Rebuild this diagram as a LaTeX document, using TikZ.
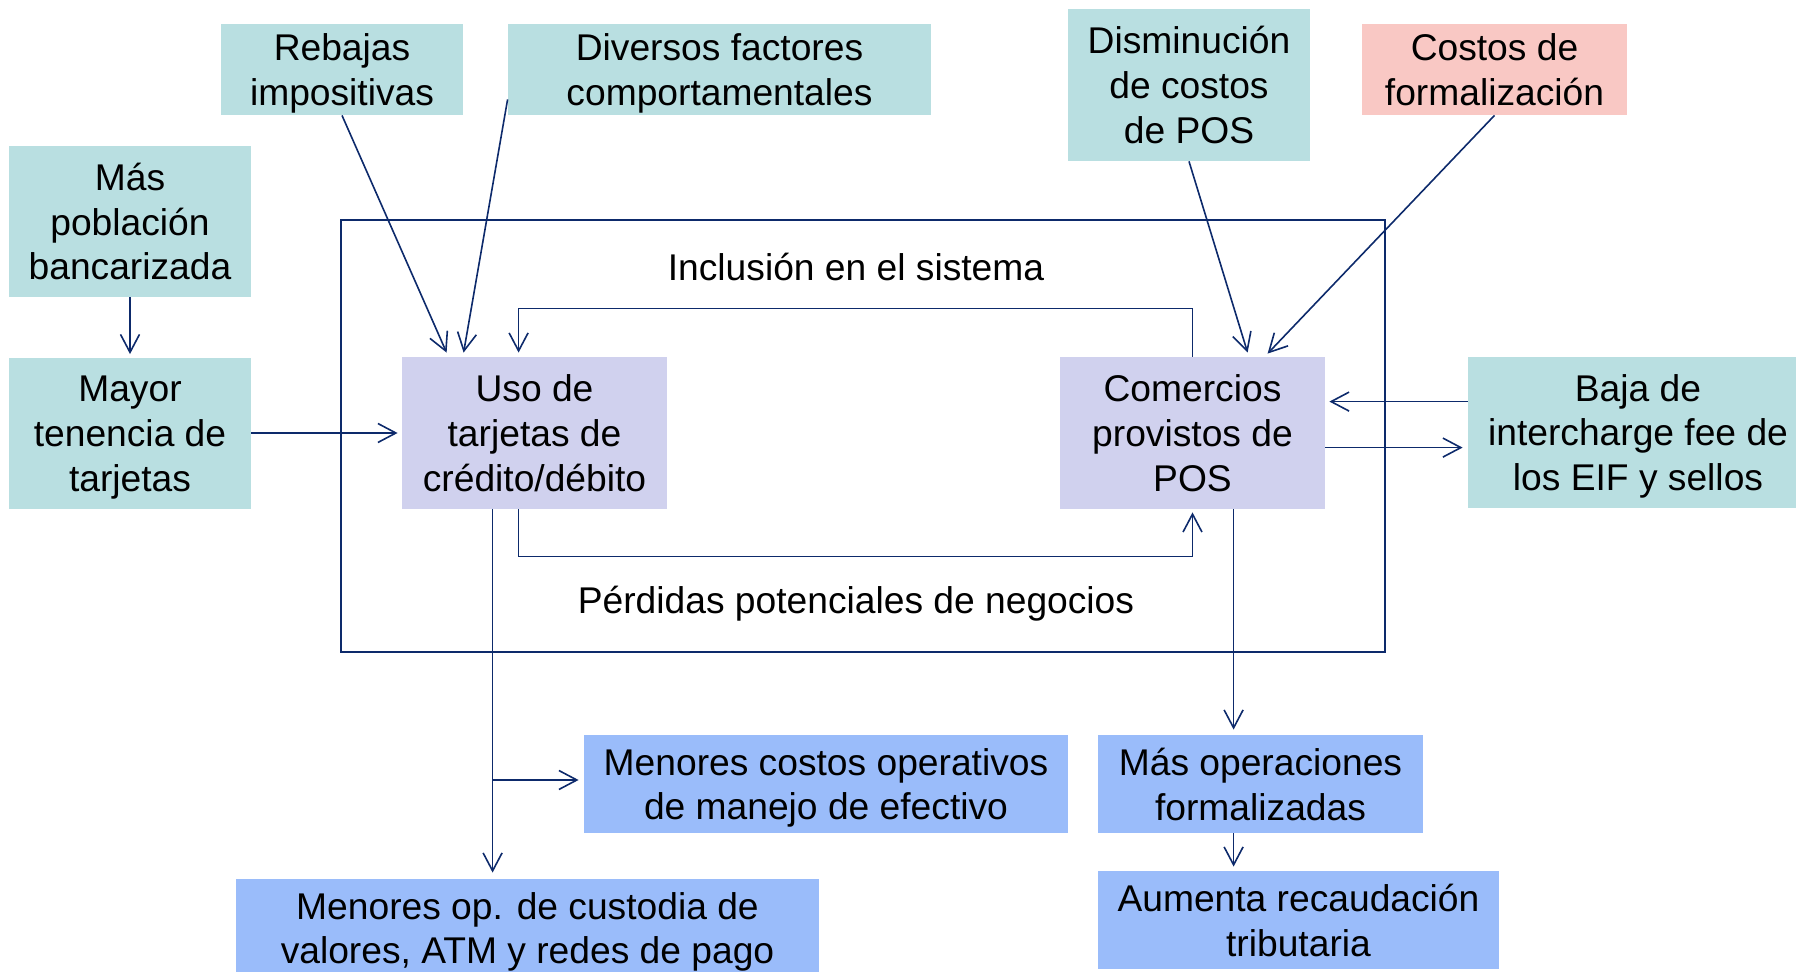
\documentclass[tikz,border=0pt]{standalone}
\usepackage{fontspec}
\setmainfont{Liberation Sans}
\usetikzlibrary{arrows.meta,calc}
\definecolor{tealbox}{HTML}{B9DFE1}
\definecolor{lavbox}{HTML}{D0D1EE}
\definecolor{pinkbox}{HTML}{F9C8C4}
\definecolor{bluebox}{HTML}{9ABCFA}
\definecolor{navy}{HTML}{0D2A6B}
\tikzset{
  box/.style={inner sep=0pt, align=center, text depth=0pt, font=\fontsize{18.6}{22.4}\selectfont},
  tbox/.style={box, fill=tealbox},
  lbox/.style={box, fill=lavbox},
  pbox/.style={box, fill=pinkbox},
  bbox/.style={box, fill=bluebox},
  arr/.style={draw=navy, line width=0.8pt, -{Straight Barb[length=9pt,width=9.5pt,line width=0.8pt]}},
  lbl/.style={text depth=0pt, font=\fontsize{18.6}{22.4}\selectfont}
}
\begin{document}
\begin{tikzpicture}[x=0.5pt,y=-0.5pt]
\useasboundingbox (0,0) rectangle (1796,972);
\clip (0,0) rectangle (1796,972);
% outer frame
\draw[navy, line width=1.3pt] (341,220) rectangle (1385,652);
% nodes
\node[tbox, minimum width=121pt, minimum height=45.5pt] (rebajas) at (342,69.5) {Rebajas\\impositivas};
\node[tbox, minimum width=211.5pt, minimum height=45.5pt] (diversos) at (719.5,69.5) {Diversos factores\\comportamentales};
\node[tbox, minimum width=121pt, minimum height=75.5pt] (mas) at (130,221.5) {Más\\población\\bancarizada};
\node[tbox, minimum width=121pt, minimum height=75.5pt] (mayor) at (130,434) {Mayor\\tenencia de\\tarjetas};
\node[lbox, minimum width=132.5pt, minimum height=76pt] (uso) at (534.5,433) {Uso de\\tarjetas de\\crédito/débito};
\node[tbox, minimum width=121pt, minimum height=76pt] (dism) at (1189,85) {Disminución\\de costos\\de POS};
\node[pbox, minimum width=132.5pt, minimum height=45.5pt] (costos) at (1494.5,69.5) {Costos de\\formalización};
\node[lbox, minimum width=132.5pt, minimum height=76pt] (com) at (1192.5,433) {Comercios\\provistos de\\POS};
\node[tbox, minimum width=170pt, minimum height=75.5pt] (baja) at (1638,432.5) {Baja de\\intercharge fee de\\los EIF y sellos};
\node[bbox, minimum width=242pt, minimum height=49pt] (menc) at (826,784) {Menores costos operativos\\de manejo de efectivo};
\node[bbox, minimum width=162.5pt, minimum height=49pt] (masop) at (1260.5,784) {Más operaciones\\formalizadas};
\node[bbox, minimum width=200.5pt, minimum height=49pt] (aum) at (1298.5,920) {Aumenta recaudación\\tributaria};
\node[bbox, minimum width=291.5pt, minimum height=49pt] (menop) at (527.5,928) {Menores op. de custodia de\\valores, ATM y redes de pago};
\node[lbl] (incl) at (856,267) {Inclusión en el sistema};
\node[lbl] (perd) at (856,600) {Pérdidas potenciales de negocios};
% connectors
\draw[arr] (mas.south) -- ($(mayor.north)+(0,-4)$);
\draw[arr] ($(mayor.east)+(0,-1)$) -- ($(uso.west)+(-4,0)$);
\draw[arr] (rebajas.south) -- ($(uso.north west)+(45,-4)$);
\draw[arr] ($(diversos.south west)+(0,-16)$) -- ($(uso.north west)+(62,-4)$);
\draw[arr] (com.north) -- ++(0,-48) -| ($(uso.north west)+(117,-4)$);
\draw[arr] ($(uso.south west)+(117,0)$) -- ++(0,47) -| ($(com.south)+(0,3)$);
\draw[arr] (dism.south) -- ($(com.north west)+(188,-4)$);
\draw[arr] (costos.south) -- ($(com.north west)+(208,-3)$);
\draw[arr] ($(baja.north west)+(0,45)$) -- ($(com.north east)+(4,45)$);
\draw[arr] ($(com.north east)+(0,91)$) -- ($(baja.north west)+(-5,91)$);
\coordinate (ud) at ($(uso.south west)+(91,0)$);
\coordinate (mcin) at ($(menc.west)+(-5,-4)$);
\draw[arr] (ud) -- ($(ud |- menop.north)+(0,-6)$);
\draw[arr] (ud |- mcin) -- (mcin);
\coordinate (cd) at ($(com.south west)+(174,0)$);
\draw[arr] (cd) -- ($(cd |- masop.north)+(0,-5)$);
\draw[arr] (cd |- masop.south) -- ($(cd |- aum.north)+(0,-4)$);
\end{tikzpicture}
\end{document}
